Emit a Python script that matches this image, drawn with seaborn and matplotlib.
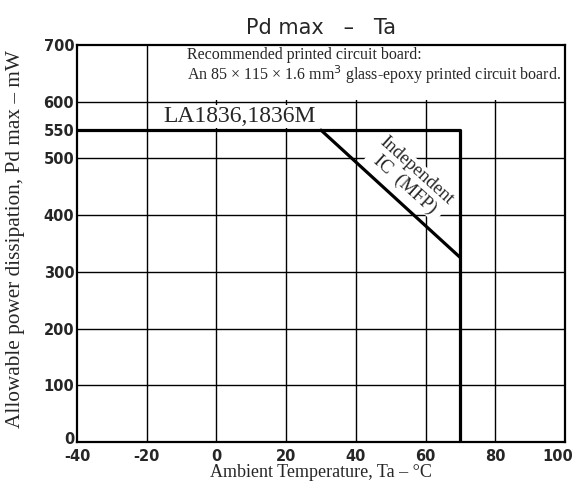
import pandas as pd
import seaborn as sns
import matplotlib.pyplot as plt
import matplotlib.transforms as mtransforms
from matplotlib.patches import Rectangle

# === Data ===
ta_la = [-40, 70, 70]
pd_la = [550, 550, 0]
ta_mfp = [30, 70]
pd_mfp = [550, 325]

x_ticks = [-40, -20, 0, 20, 40, 60, 80, 100]
y_ticks = [0, 100, 200, 300, 400, 500, 550, 600, 700]
grid_y = [100, 200, 300, 400, 500, 600]

df_la = pd.DataFrame({"Ta": ta_la, "Pd": pd_la})
df_mfp = pd.DataFrame({"Ta": ta_mfp, "Pd": pd_mfp})

sns.set_style("white")
plt.rcParams['font.family'] = ['DejaVu Sans']

fig = plt.figure(figsize=(5.78, 4.90), dpi=100)
ax = fig.add_axes([0.1332, 0.098, 0.8443, 0.810])

# === Lines ===
sns.lineplot(data=df_la, x="Ta", y="Pd", sort=False, estimator=None,
             color="black", lw=2.3, ax=ax, zorder=4)
sns.lineplot(data=df_mfp, x="Ta", y="Pd", sort=False, estimator=None,
             color="black", lw=2.3, ax=ax, zorder=4)

ax.set_xlim(-40, 100)
ax.set_ylim(0, 700)
ax.set_xticks(x_ticks)
ax.set_yticks(y_ticks)
ax.set_xticklabels([str(v) for v in x_ticks], fontweight="bold", fontsize=10.5)
ax.set_yticklabels([str(v) for v in y_ticks], fontweight="bold", fontsize=10.5)
ax.tick_params(axis="y", length=0, pad=2)
ax.tick_params(axis="x", length=0, pad=5)

# nudge corner labels so they stay inside and apart
xl = ax.get_xticklabels()
xl[-1].set_transform(xl[-1].get_transform() + mtransforms.ScaledTranslation(-5 / 72, 0, fig.dpi_scale_trans))
yl = ax.get_yticklabels()
yl[0].set_transform(yl[0].get_transform() + mtransforms.ScaledTranslation(0, 3 / 72, fig.dpi_scale_trans))

# grid, but not at 550
ax.grid(False)
for v in x_ticks[1:-1]:
    ax.axvline(v, color="black", lw=1.0, zorder=1)
for v in grid_y:
    ax.axhline(v, color="black", lw=1.0, zorder=1)
for s in ax.spines.values():
    s.set_color("black")
    s.set_linewidth(1.6)

# === Text ===
ax.set_title("Pd max   \u2013   Ta", fontsize=15, pad=8)
ax.set_xlabel("Ambient Temperature, Ta \u2013 \u00b0C", family="Liberation Serif", fontsize=13, labelpad=0)
ax.set_ylabel("Allowable power dissipation, Pd max \u2013 mW", family="Liberation Serif", fontsize=15.3)
ax.yaxis.set_label_coords(-0.1066, 0.512)

# white area behind the board note
ax.add_patch(Rectangle((-14, 604), 114, 96, facecolor="white", edgecolor="none", zorder=1.5))
ax.text(-8.4, 682, "Recommended printed circuit board:", family="Liberation Serif",
        fontsize=11.5, va="center", ha="left", zorder=2)
ax.text(-8.4, 648, "An 85 \u00d7 115 \u00d7 1.6 mm$^3$ glass-epoxy printed circuit board.",
        family="Liberation Serif", fontsize=11.5, va="center", ha="left", zorder=2)

ax.text(-15.2, 574, "LA1836,1836M", family="Liberation Serif", fontsize=17, va="center", ha="left",
        bbox=dict(facecolor="white", edgecolor="none", pad=1), zorder=2)
ax.text(55.8, 466, "Independent\nIC  (MFP)", family="Liberation Serif", fontsize=13.5, rotation=-42,
        ha="center", va="center", rotation_mode="anchor", linespacing=1.05,
        bbox=dict(facecolor="white", edgecolor="none", pad=0.5), zorder=2)

plt.savefig("out.png", dpi=100)
plt.close()
